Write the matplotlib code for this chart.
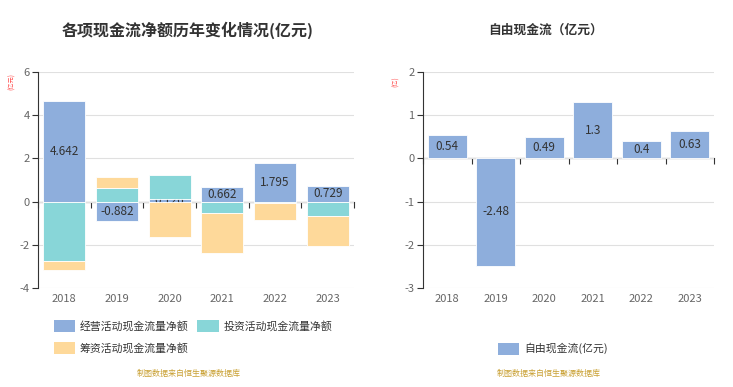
import matplotlib
matplotlib.use("Agg")
import matplotlib.pyplot as plt
from matplotlib.patches import Patch
import numpy as np

plt.rcParams['font.family'] = ['Noto Sans CJK SC', 'DejaVu Sans']
plt.rcParams['axes.unicode_minus'] = False

years = ['2018', '2019', '2020', '2021', '2022', '2023']
operating = [4.642, -0.882, 0.126, 0.662, 1.795, 0.729]
investing = [-2.75, 0.65, 1.12, -0.51, -0.05, -0.65]
financing = [-0.41, 0.51, -1.62, -1.85, -0.81, -1.40]
fcf = [0.54, -2.48, 0.49, 1.3, 0.4, 0.63]

c_op = '#8eaedc'
c_inv = '#88d6d8'
c_fin = '#fed99a'
grid_c = '#e0e0e0'
axis_c = '#333333'
tick_c = '#666666'

fig = plt.figure(figsize=(7.33, 3.87), dpi=100)
ax1 = fig.add_axes([38/733, 1-288/387, (354-38)/733, (288-72)/387])
ax2 = fig.add_axes([423/733, 1-288/387, (714-423)/733, (288-72)/387])

x = np.arange(len(years))
w = 0.8

def style(ax, ymin, ymax, step):
    ax.set_ylim(ymin, ymax)
    ax.set_xlim(-0.5, len(years) - 0.5)
    ax.set_yticks(np.arange(ymin, ymax + 0.001, step))
    ax.set_yticklabels([f'{v:g}' for v in np.arange(ymin, ymax + 0.001, step)])
    ax.yaxis.grid(True, color=grid_c, linewidth=0.8)
    ax.set_axisbelow(True)
    for s in ['top', 'right', 'bottom']:
        ax.spines[s].set_visible(False)
    ax.spines['left'].set_color(axis_c)
    ax.spines['left'].set_linewidth(0.8)
    ax.tick_params(axis='y', colors=tick_c, labelsize=8, length=4, width=0.8, color=axis_c, pad=2)
    ax.set_xticks(x)
    ax.set_xticklabels(years)
    ax.tick_params(axis='x', length=0, labelsize=8, colors=tick_c, pad=4)
    loc = -ymin / (ymax - ymin)
    sec = ax.secondary_xaxis(loc)
    bticks = np.arange(-0.5, len(years), 1.0)
    sec.set_xticks(bticks, labels=[''] * len(bticks))
    sec.xaxis.set_ticks_position('bottom')
    sec.tick_params(axis='x', which='both', length=4, width=0.8, color=axis_c,
                    bottom=True, top=False, labelbottom=False, labeltop=False, direction='out')
    for name, s in sec.spines.items():
        s.set_color(axis_c)
        s.set_linewidth(0.8)

style(ax1, -4, 6, 2)
style(ax2, -3, 2, 1)

op = np.array(operating)
inv = np.array(investing)
fin = np.array(financing)
pos_base = np.where(op > 0, op, 0)
neg_base = np.where(op < 0, op, 0)
inv_bottom = np.where(inv >= 0, pos_base, neg_base)
pos_base2 = pos_base + np.where(inv > 0, inv, 0)
neg_base2 = neg_base + np.where(inv < 0, inv, 0)
fin_bottom = np.where(fin >= 0, pos_base2, neg_base2)

ax1.bar(x, op, w, color=c_op, edgecolor='white', linewidth=0.6, zorder=2)
for xi, v in zip(x, op):
    ax1.text(xi, v / 2, f'{v:g}', ha='center', va='center', fontsize=8.5, color='#333333', zorder=2.5)
ax1.bar(x, inv, w, bottom=inv_bottom, color=c_inv, edgecolor='white', linewidth=0.6, zorder=3)
ax1.bar(x, fin, w, bottom=fin_bottom, color=c_fin, edgecolor='white', linewidth=0.6, zorder=3)

ax2.bar(x, fcf, w, color=c_op, edgecolor='white', linewidth=0.6, zorder=2)
for xi, v in zip(x, fcf):
    ax2.text(xi, v / 2, f'{v:g}', ha='center', va='center', fontsize=8.5, color='#333333', zorder=3)

fig.text(62/733, 1-30/387, '各项现金流净额历年变化情况(亿元)', fontsize=11.5, fontweight='bold', color='#333333', ha='left', va='center')
fig.text(488/733, 1-30/387, '自由现金流（亿元）', fontsize=9.2, fontweight='bold', color='#333333', ha='left', va='center')

fig.text(12/733, 1-82/387, '(亿元)', fontsize=4.5, color='#ff4d4d', rotation=90, ha='center', va='center')
fig.text(396/733, 1-82/387, '(亿)', fontsize=4.5, color='#ff4d4d', rotation=90, ha='center', va='center')

h_op = Patch(facecolor=c_op, edgecolor='none', label='经营活动现金流量净额')
h_inv = Patch(facecolor=c_inv, edgecolor='none', label='投资活动现金流量净额')
h_fin = Patch(facecolor=c_fin, edgecolor='none', label='筹资活动现金流量净额')
fig.legend(handles=[h_op, h_fin, h_inv], loc='upper left', bbox_to_anchor=(44/733, 1-310/387),
           ncol=2, frameon=False, fontsize=7.8, handlelength=2.0, handleheight=1.3,
           handletextpad=0.4, columnspacing=0.8, labelspacing=0.95, labelcolor='#333333')
fig.legend(handles=[Patch(facecolor=c_op, edgecolor='none', label='自由现金流(亿元)')], loc='upper left',
           bbox_to_anchor=(488/733, 1-333/387), frameon=False, fontsize=7.8, handlelength=2.0,
           handleheight=1.3, handletextpad=0.4, labelcolor='#333333')

fig.text(189/733, 1-373/387, '制图数据来自恒生聚源数据库', fontsize=5.8, color='#c9a032', ha='center', va='center')
fig.text(549/733, 1-373/387, '制图数据来自恒生聚源数据库', fontsize=5.8, color='#c9a032', ha='center', va='center')

fig.savefig('out.png', dpi=100)
